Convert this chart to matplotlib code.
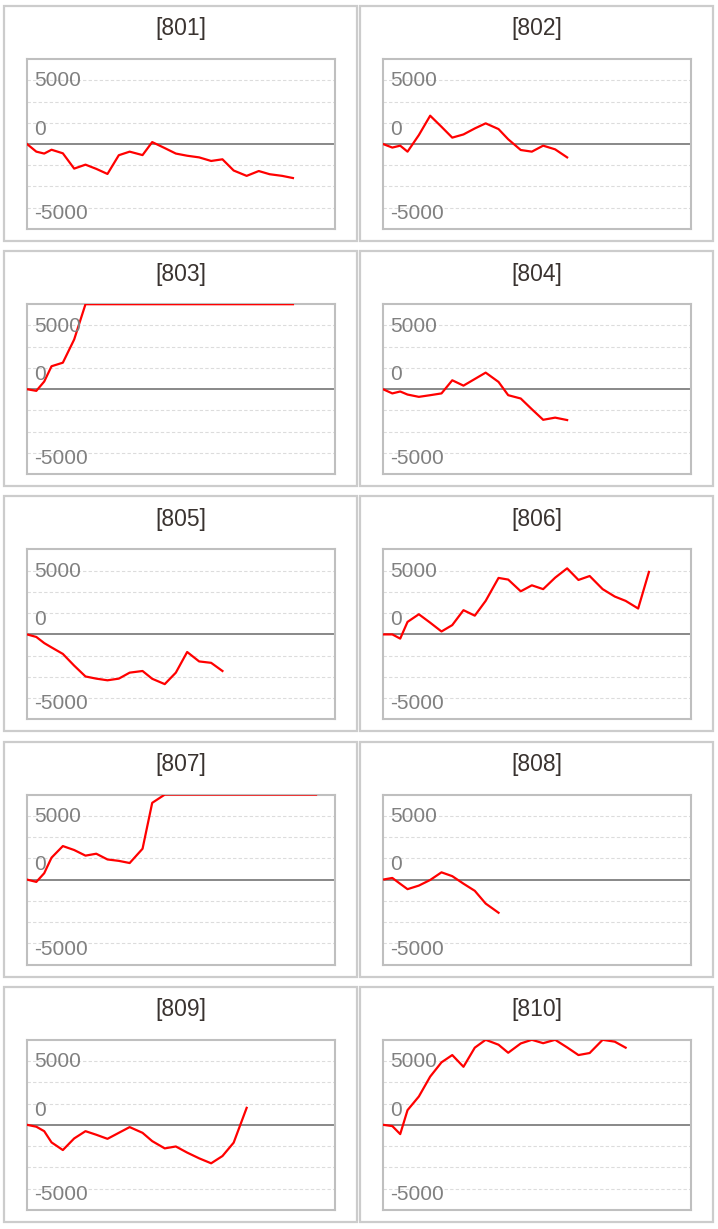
import numpy as np
import matplotlib.pyplot as plt
from matplotlib.patches import Rectangle

plt.rcParams['font.family'] = ['Liberation Sans', 'DejaVu Sans']

# ---------- data ----------
names = ["[801]", "[802]", "[803]", "[804]", "[805]",
         "[806]", "[807]", "[808]", "[809]", "[810]"]

# x positions (days) shared by all panels
days = [0, 0.84, 1.55, 2.21, 3.23, 4.25, 5.27, 6.24, 7.25, 8.27, 9.25,
        10.41, 11.28, 12.41, 13.41, 14.43, 15.51, 16.59, 17.61, 18.62,
        19.79, 20.88, 21.86, 22.99, 23.96, 24.95, 26.04]

s801 = [0, -600, -750, -450, -730, -1930, -1620, -1950, -2350, -880, -600,
        -870, 150, -320, -750, -920, -1050, -1330, -1200, -2080, -2500,
        -2120, -2370, -2500, -2670]
s802 = [0, -280, -130, -600, 700, 2220, 1350, 500, 750, 1220, 1620, 1170,
        370, -470, -600, -130, -420, -1050]
s803 = [0, -130, 600, 1800, 2080, 3900, 6700, 7800, 8600, 9300, 9800,
        10400, 11000, 11500, 12000, 12400, 12800, 13300, 13700, 14000,
        14400, 14800, 15100, 15500, 15800]
s804 = [0, -330, -180, -420, -600, -470, -330, 700, 280, 800, 1300, 570,
        -470, -730, -1570, -2400, -2230, -2420]
s805 = [0, -200, -680, -1020, -1530, -2450, -3300, -3470, -3600, -3470,
        -3000, -2870, -3480, -3900, -3000, -1380, -2120, -2230, -2870]
s806 = [0, 0, -330, 980, 1580, 920, 230, 730, 1900, 1470, 2630, 4430, 4300,
        3380, 3850, 3550, 4450, 5180, 4270, 4580, 3550, 2970, 2630, 2030, 4900]
s807 = [0, -180, 500, 1720, 2630, 2320, 1880, 2030, 1580, 1470, 1300, 2420,
        6020, 6750, 7500, 8200, 8800, 9300, 9700, 10100, 10600, 11000,
        11300, 11700, 12000, 12400, 12700]
s808 = [0, 130, -330, -750, -470, -30, 570, 270, -320, -880, -1880, -2600]
s809 = [0, -150, -500, -1380, -1980, -1070, -500, -780, -1100, -630, -180,
        -630, -1280, -1850, -1700, -2180, -2630, -3020, -2450, -1400, 1330]
s810 = [0, -100, -730, 1150, 2220, 3780, 4900, 5470, 4550, 6050, 6900,
        6280, 5650, 6380, 6900, 6400, 6950, 6070, 5470, 5630, 6900, 6520, 6050]

series = [s801, s802, s803, s804, s805, s806, s807, s808, s809, s810]

grid_vals = [-5000, -3333, -1667, 1667, 3333, 5000]
tick_text = ["5000", "0", "-5000"]
tick_pos = [4950, 1150, -5450]
y_top = 6667
x_end = 27.75

# ---------- figure ----------
W, H = 718, 1229
fig = plt.figure(figsize=(W / 100, H / 100), dpi=100)


def fx(px):
    return px / W


def fy(py):
    return 1 - py / H


for i, (name, vals) in enumerate(zip(names, series)):
    row, col = divmod(i, 2)
    bx = [4, 360][col]
    by = 6 + 245.2 * row

    # panel frame and title
    fig.patches.append(Rectangle((fx(bx), fy(by + 235)), 353 / W, 235 / H,
                                 transform=fig.transFigure, fill=False,
                                 ec="#cccccc", lw=1.6))
    fig.text(fx(bx + 176.5), fy(by + 23), name, ha="center", va="center",
             fontsize=16.5, color="#3a3330")

    ax = fig.add_axes([fx(bx + 23), fy(by + 53 + 170), 308 / W, 170 / H])
    for g in grid_vals:
        ax.axhline(g, color="#dcdcdc", lw=0.8, ls=(0, (3, 2)), zorder=1)
    ax.axhline(0, color="#888888", lw=1.4, zorder=2)

    y = np.clip(np.array(vals, dtype=float), -y_top, y_top)
    ax.plot(days[:len(vals)], y, color="red", lw=1.6, zorder=3)

    for t, p in zip(tick_text, tick_pos):
        ax.text(0.68, p, t, ha="left", va="center", fontsize=15,
                color="#808080", zorder=4)

    ax.set_xlim(0, x_end)
    ax.set_ylim(-y_top, y_top)
    ax.set_xticks([])
    ax.set_yticks([])
    for sp in ax.spines.values():
        sp.set_color("#bfbfbf")
        sp.set_linewidth(1.5)

plt.savefig("out.png", dpi=100)
